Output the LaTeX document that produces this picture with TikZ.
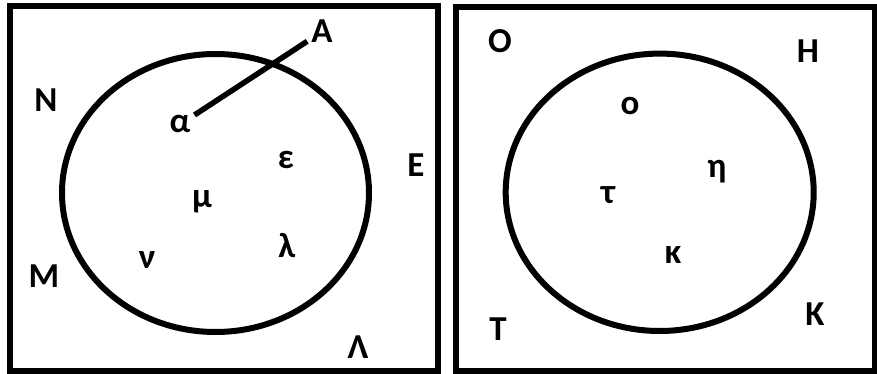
\documentclass[tikz,border=0pt]{standalone}
\usepackage{fontspec}
\setmainfont{Carlito}
\usepackage{tikz}
\tikzset{>=latex}
\tikzstyle{lbl} = [draw=none, inner sep=4, anchor=base, font=\fontsize{35}{40}\selectfont\bfseries]
\tikzstyle{frame} = [line width=6]

\begin{document}
\begin{tikzpicture}[x=1pt, y=-1pt]
\useasboundingbox (0, 0) rectangle (877, 374);
\fill [white] (0, 0) rectangle (877, 374);
% left set
\draw [frame] (9.5, 6.5) rectangle (438, 371);
\draw [frame] (215.5, 193) ellipse [x radius=153.5, y radius=139];
\node [lbl] (A) at (322, 43) {Α};
\node [lbl] (N) at (46, 112) {Ν};
\node [lbl] (alpha) at (180, 133) {α};
\node [lbl] (eps) at (286, 168) {ε};
\node [lbl] (E) at (416, 177) {Ε};
\node [lbl] (mu) at (202, 207) {μ};
\node [lbl] (lam) at (287, 257) {λ};
\node [lbl] (nu) at (147, 268) {ν};
\node [lbl] (M) at (44, 287) {Μ};
\node [lbl] (Lam) at (358, 358) {Λ};
\draw [line width=5.5] (alpha) to (A);
% right set
\draw [frame] (455.5, 7.5) rectangle (874.5, 370.5);
\draw [frame] (659.7, 192.3) ellipse [x radius=154, y radius=138.7];
\node [lbl] (O) at (500, 53) {Ο};
\node [lbl] (H) at (808, 63) {Η};
\node [lbl] (omi) at (630, 115) {ο};
\node [lbl] (eta) at (717, 178) {η};
\node [lbl] (tau) at (608, 203) {τ};
\node [lbl] (kap) at (673, 263) {κ};
\node [lbl] (T) at (498, 340) {Τ};
\node [lbl] (K) at (815, 325) {Κ};
\end{tikzpicture}
\end{document}
